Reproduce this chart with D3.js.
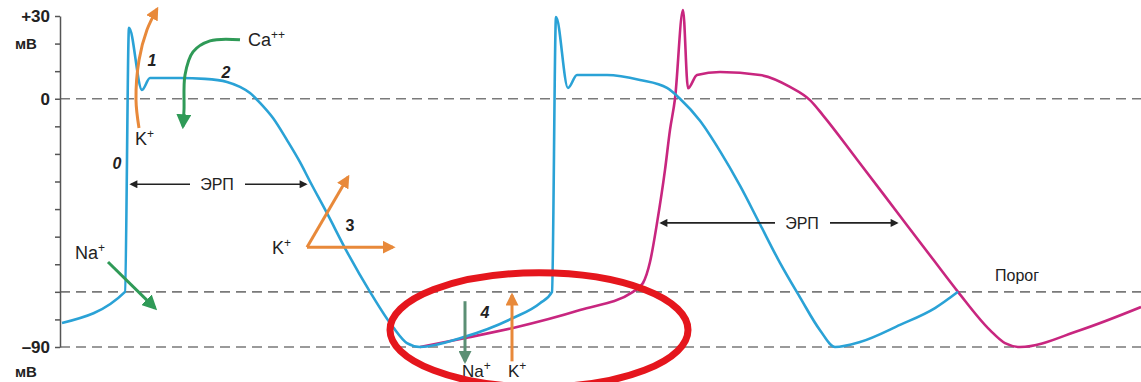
<!DOCTYPE html>
<html><head><meta charset="utf-8">
<script src="https://cdn.jsdelivr.net/npm/d3@7"></script>
<style>
html,body{margin:0;padding:0;background:#fff;}
svg{display:block;}
text{font-family:"Liberation Sans",Arial,sans-serif;fill:#222;}
</style></head>
<body>
<svg id="chart" width="1141" height="382"></svg>
<script>
// ---- data (time in arbitrary units, potential in mV) ----
const tickValues = [-90,-80,-70,-60,-50,-40,-30,-20,-10,0,10,20,30];
const tickLabels = [{v:30,text:"+30"},{v:0,text:"0"},{v:-90,text:"\u201390"}];
const refLevels = [0,-70,-90];           // 0 mV, threshold, resting
const bluePoints = [
 [2,-81.3],[65,-70],[69,25.7],[82,3.2],[90,7.5],[120,7.5],[145,7.2],[167,6.1],[180,4.3],
 [190,2.1],[200,-1.5],[213,-7],[227,-15],[240,-23],[250,-30],[267,-41.5],[287,-55.5],[310,-70],
 [333,-82.8],[347,-88.6],[360,-90],[403,-86.5],[453,-79.5],[480,-74.1],[492,-70],
 [496,29.6],[508,3.9],[517,8.6],[547,8.6],[580,6.8],[607,3.9],[620,0],[640,-8],[660,-19],
 [680,-31.5],[700,-45.5],[720,-59.5],[740,-72],[760,-83.9],[775,-90],[800,-88.2],
 [840,-82],[875,-75.9],[898,-70]
];
const magentaPoints = [
 [360,-90],[403,-86.9],[453,-83.1],[520,-76.6],[573,-70],[583,-66.8],[590,-59.2],
 [597,-45.1],[605,-25.8],[610,-11.3],[615,0],[623,32.2],[628,3.8],[637,8.6],[660,9.7],
 [700,8.6],[730,4.3],[750,-0.5],[763,-6],[797,-22],[840,-42.5],[873,-58.2],[898,-70],
 [930,-83.9],[945,-88.6],[960,-90],[1020,-83.9],[1081,-75.5]
];
const erpArrows = [{from:70,to:247,v:-31,label:155},{from:600,to:838,v:-45,label:740}];
const phaseLabels = [{t:57,v:-23.5,text:"0"},{t:92,v:14,text:"1"},{t:166,v:9.5,text:"2"},{t:290,v:-45.8,text:"3"},{t:425,v:-77.3,text:"4"}];
const ionArrows = [
 {color:"#e8893a",pts:[[79,-10.6],[76,-0.5],[79,14],[87,25],[97,32.5]]},
 {color:"#2f9a57",pts:[[180,21.4],[150,21],[133,17],[125,8.6],[124,-4],[123,-10]]},
 {color:"#e8893a",pts:[[247,-53.8],[288,-28.4]]},
 {color:"#e8893a",pts:[[247,-53.8],[333,-53.8]]},
 {color:"#2f9a57",pts:[[48,-59.2],[95,-75.9]]},
 {color:"#5b8f74",pts:[[405,-73.4],[405,-95.2]]},
 {color:"#e8893a",pts:[[452,-95.2],[452,-71.2]]}
];
const ionLabels = [
 {t:75,v:-14.5,base:"K",sup:"+",size:18},
 {t:188,v:21.4,base:"Ca",sup:"++",size:18},
 {t:15,v:-55.6,base:"Na",sup:"+",size:18},
 {t:212,v:-53.8,base:"K",sup:"+",size:18},
 {t:402,v:-98.6,base:"Na",sup:"+",size:17},
 {t:448,v:-98.6,base:"K",sup:"+",size:17}
];
const thresholdLabel = {t:935,v:-64,text:"\u041f\u043e\u0440\u043e\u0433"};
const highlight = {t:479,v:-83.8,rt:149,rv:20.7};

// ---- scales ----
const svg = d3.select("#chart");
const x = d3.scaleLinear().domain([0,1081]).range([60,1141]);
const y = d3.scaleLinear().domain([-90,30]).range([347,16]);

// markers
const defs = svg.append("defs");
function marker(id,color,w,h){
  defs.append("marker").attr("id",id).attr("markerUnits","userSpaceOnUse")
   .attr("viewBox","0 0 10 10").attr("refX",8).attr("refY",5)
   .attr("markerWidth",w).attr("markerHeight",h).attr("orient","auto")
   .append("path").attr("d","M0,0 L10,5 L0,10 z").attr("fill",color);
}
marker("mOrange","#e8893a",13,13);
marker("mGreen","#2f9a57",15,15);
marker("mGray","#5b8f74",13,13);
marker("mBlack","#222",9,8);
const markerFor = c => c==="#e8893a"?"mOrange":c==="#2f9a57"?"mGreen":"mGray";

// reference dashed lines
svg.append("g").selectAll("line").data(refLevels).join("line")
 .attr("x1",x(0)).attr("x2",x(1081)).attr("y1",d=>y(d)).attr("y2",d=>y(d))
 .attr("stroke","#7a7a7a").attr("stroke-width",1.6).attr("stroke-dasharray","10,6");

// axis
const axis = d3.axisLeft(y).tickValues(tickValues).tickSize(5).tickSizeOuter(0).tickFormat("");
const ag = svg.append("g").attr("transform",`translate(${x(0)},0)`).call(axis);
ag.selectAll("path,line").attr("stroke","#555").attr("stroke-width",1.5);

// axis labels
svg.append("g").selectAll("text").data(tickLabels).join("text")
 .attr("x",50).attr("y",d=>y(d.v)).attr("dy","0.36em").attr("text-anchor","end")
 .attr("font-size",17).attr("font-weight","bold").text(d=>d.text);
svg.append("text").attr("x",15).attr("y",y(30)+28).attr("dy","0.36em").attr("font-size",15).attr("font-weight","bold").text("\u043c\u0412");
svg.append("text").attr("x",15).attr("y",y(-90)+25).attr("dy","0.36em").attr("font-size",15).attr("font-weight","bold").text("\u043c\u0412");

// curves
const line = d3.line().x(d=>x(d[0])).y(d=>y(d[1])).curve(d3.curveMonotoneX);
svg.append("path").datum(magentaPoints).attr("d",line).attr("fill","none")
 .attr("stroke","#c8267f").attr("stroke-width",2.6).attr("stroke-linejoin","round");
svg.append("path").datum(bluePoints).attr("d",line).attr("fill","none")
 .attr("stroke","#2aa2d6").attr("stroke-width",2.6).attr("stroke-linejoin","round");

// ion arrows
const aline = d3.line().x(d=>x(d[0])).y(d=>y(d[1])).curve(d3.curveCatmullRom);
svg.append("g").selectAll("path").data(ionArrows).join("path")
 .attr("d",d=>aline(d.pts)).attr("fill","none").attr("stroke",d=>d.color)
 .attr("stroke-width",3).attr("marker-end",d=>`url(#${markerFor(d.color)})`);

// ERP arrows
erpArrows.forEach(e=>{
  const g = svg.append("g");
  g.append("line").attr("x1",x(e.label)-25).attr("x2",x(e.from)+1).attr("y1",y(e.v)).attr("y2",y(e.v))
   .attr("stroke","#222").attr("stroke-width",1.6).attr("marker-end","url(#mBlack)");
  g.append("line").attr("x1",x(e.label)+30).attr("x2",x(e.to)-1).attr("y1",y(e.v)).attr("y2",y(e.v))
   .attr("stroke","#222").attr("stroke-width",1.6).attr("marker-end","url(#mBlack)");
  g.append("text").attr("x",x(e.label)+2).attr("y",y(e.v)).attr("dy","0.36em").attr("text-anchor","middle")
   .attr("font-size",16).text("\u042d\u0420\u041f");
});

// phase numbers
svg.append("g").selectAll("text").data(phaseLabels).join("text")
 .attr("x",d=>x(d.t)).attr("y",d=>y(d.v)).attr("dy","0.36em").attr("text-anchor","middle")
 .attr("font-size",16).attr("font-weight","bold").attr("font-style",d=>d.text==="3"?"normal":"italic").text(d=>d.text);

// ion labels
const il = svg.append("g").selectAll("text").data(ionLabels).join("text")
 .attr("x",d=>x(d.t)).attr("y",d=>y(d.v)).attr("dy","0.36em").attr("font-size",d=>d.size);
il.append("tspan").text(d=>d.base);
il.append("tspan").attr("dy",-7).attr("font-size",12).text(d=>d.sup);

// threshold label
svg.append("text").attr("x",x(thresholdLabel.t)).attr("y",y(thresholdLabel.v)).attr("dy","0.36em")
 .attr("font-size",16).text(thresholdLabel.text);

// highlight ellipse
svg.append("ellipse").attr("cx",x(highlight.t)).attr("cy",y(highlight.v))
 .attr("rx",x(highlight.t+highlight.rt)-x(highlight.t)).attr("ry",y(highlight.v-highlight.rv)-y(highlight.v))
 .attr("fill","none").attr("stroke","#e5161d").attr("stroke-width",7);
</script>
</body></html>
